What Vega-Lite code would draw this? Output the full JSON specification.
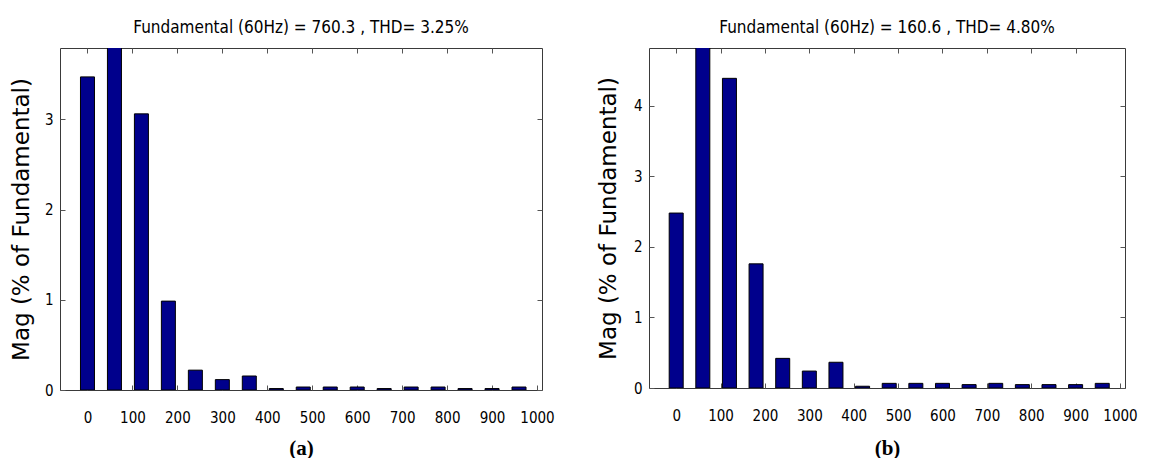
{
  "$schema": "https://vega.github.io/schema/vega-lite/v6.json",
  "background": "white",
  "autosize": {"type": "pad"},
  "padding": {"left": 9, "top": 18, "right": 0, "bottom": 0},
  "datasets": {
    "a": [
      {"freq": 0, "mag": 3.47},
      {"freq": 60, "mag": 100},
      {"freq": 120, "mag": 3.06},
      {"freq": 180, "mag": 0.985},
      {"freq": 240, "mag": 0.22},
      {"freq": 300, "mag": 0.115},
      {"freq": 360, "mag": 0.155},
      {"freq": 420, "mag": 0.016},
      {"freq": 480, "mag": 0.033},
      {"freq": 540, "mag": 0.033},
      {"freq": 600, "mag": 0.033},
      {"freq": 660, "mag": 0.016},
      {"freq": 720, "mag": 0.033},
      {"freq": 780, "mag": 0.033},
      {"freq": 840, "mag": 0.016},
      {"freq": 900, "mag": 0.016},
      {"freq": 960, "mag": 0.033}
    ],
    "b": [
      {"freq": 0, "mag": 2.48},
      {"freq": 60, "mag": 100},
      {"freq": 120, "mag": 4.39},
      {"freq": 180, "mag": 1.76},
      {"freq": 240, "mag": 0.42},
      {"freq": 300, "mag": 0.24},
      {"freq": 360, "mag": 0.365},
      {"freq": 420, "mag": 0.025},
      {"freq": 480, "mag": 0.066},
      {"freq": 540, "mag": 0.066},
      {"freq": 600, "mag": 0.066},
      {"freq": 660, "mag": 0.048},
      {"freq": 720, "mag": 0.066},
      {"freq": 780, "mag": 0.048},
      {"freq": 840, "mag": 0.048},
      {"freq": 900, "mag": 0.048},
      {"freq": 960, "mag": 0.066}
    ]
  },
  "config": {
    "view": {"stroke": "#3a3a3a", "strokeWidth": 1},
    "axis": {
      "grid": false,
      "domain": false,
      "tickSize": -5,
      "tickColor": "#555555",
      "labelFont": "DejaVu Sans Condensed, Liberation Sans",
      "labelFontSize": 15,
      "labelColor": "#000000",
      "labelFlush": false,
      "labelOverlap": false,
      "labelBound": false,
      "format": "d"
    },
    "title": {
      "font": "DejaVu Sans Condensed, Liberation Sans",
      "fontSize": 17,
      "fontWeight": "normal",
      "color": "#000000",
      "anchor": "middle",
      "baseline": "alphabetic",
      "offset": 11
    }
  },
  "spacing": 41,
  "hconcat": [
    {
      "width": 482,
      "height": 342,
      "title": "Fundamental (60Hz) = 760.3 , THD= 3.25%",
      "data": {"name": "a"},
      "resolve": {"axis": {"x": "independent", "y": "independent"}},
      "layer": [
        {
          "mark": {"type": "bar", "width": 14, "fill": "#00008c", "stroke": "#000000", "strokeWidth": 1, "clip": true},
          "encoding": {
            "x": {
              "field": "freq", "type": "quantitative",
              "scale": {"domain": [-50, 1000], "nice": false, "zero": false},
              "axis": {
                "orient": "bottom",
                "values": [0, 100, 200, 300, 400, 500, 600, 700, 800, 900, 1000],
                "labelPadding": 25,
                "title": "(a)",
                "titleFont": "Liberation Serif",
                "titleFontWeight": "bold",
                "titleFontSize": 21,
                "titleX": 241,
                "titleY": 58,
                "titleBaseline": "middle",
                "titleAlign": "center"
              }
            },
            "y": {
              "field": "mag", "type": "quantitative",
              "scale": {"domain": [0, 3.79], "nice": false},
              "axis": {
                "orient": "left",
                "values": [0, 1, 2, 3],
                "labelPadding": 12,
                "title": "Mag (% of Fundamental)",
                "titleFont": "DejaVu Sans",
                "titleFontSize": 23,
                "titleFontWeight": "normal",
                "titleAngle": -90,
                "titleX": -39,
                "titleY": 171,
                "titleBaseline": "middle",
                "titleAlign": "center"
              }
            }
          }
        },
        {
          "mark": {"type": "point", "opacity": 0, "clip": true},
          "encoding": {
            "x": {
              "field": "freq", "type": "quantitative",
              "scale": {"domain": [-50, 1000], "nice": false, "zero": false},
              "axis": {"orient": "top", "values": [0, 100, 200, 300, 400, 500, 600, 700, 800, 900], "labels": false, "title": null}
            },
            "y": {
              "field": "mag", "type": "quantitative",
              "scale": {"domain": [0, 3.79], "nice": false},
              "axis": {"orient": "right", "values": [0, 1, 2, 3], "labels": false, "title": null}
            }
          }
        }
      ]
    },
    {
      "width": 476,
      "height": 340,
      "title": "Fundamental (60Hz) = 160.6 , THD= 4.80%",
      "data": {"name": "b"},
      "resolve": {"axis": {"x": "independent", "y": "independent"}},
      "layer": [
        {
          "mark": {"type": "bar", "width": 14, "fill": "#00008c", "stroke": "#000000", "strokeWidth": 1, "clip": true},
          "encoding": {
            "x": {
              "field": "freq", "type": "quantitative",
              "scale": {"domain": [-50, 1000], "nice": false, "zero": false},
              "axis": {
                "orient": "bottom",
                "values": [0, 100, 200, 300, 400, 500, 600, 700, 800, 900, 1000],
                "labelPadding": 25,
                "title": "(b)",
                "titleFont": "Liberation Serif",
                "titleFontWeight": "bold",
                "titleFontSize": 21,
                "titleX": 238,
                "titleY": 60,
                "titleBaseline": "middle",
                "titleAlign": "center"
              }
            },
            "y": {
              "field": "mag", "type": "quantitative",
              "scale": {"domain": [0, 4.82], "nice": false},
              "axis": {
                "orient": "left",
                "values": [0, 1, 2, 3, 4],
                "labelPadding": 12,
                "title": "Mag (% of Fundamental)",
                "titleFont": "DejaVu Sans",
                "titleFontSize": 23,
                "titleFontWeight": "normal",
                "titleAngle": -90,
                "titleX": -41,
                "titleY": 170,
                "titleBaseline": "middle",
                "titleAlign": "center"
              }
            }
          }
        },
        {
          "mark": {"type": "point", "opacity": 0, "clip": true},
          "encoding": {
            "x": {
              "field": "freq", "type": "quantitative",
              "scale": {"domain": [-50, 1000], "nice": false, "zero": false},
              "axis": {"orient": "top", "values": [0, 100, 200, 300, 400, 500, 600, 700, 800, 900], "labels": false, "title": null}
            },
            "y": {
              "field": "mag", "type": "quantitative",
              "scale": {"domain": [0, 4.82], "nice": false},
              "axis": {"orient": "right", "values": [0, 1, 2, 3, 4], "labels": false, "title": null}
            }
          }
        }
      ]
    }
  ]
}
